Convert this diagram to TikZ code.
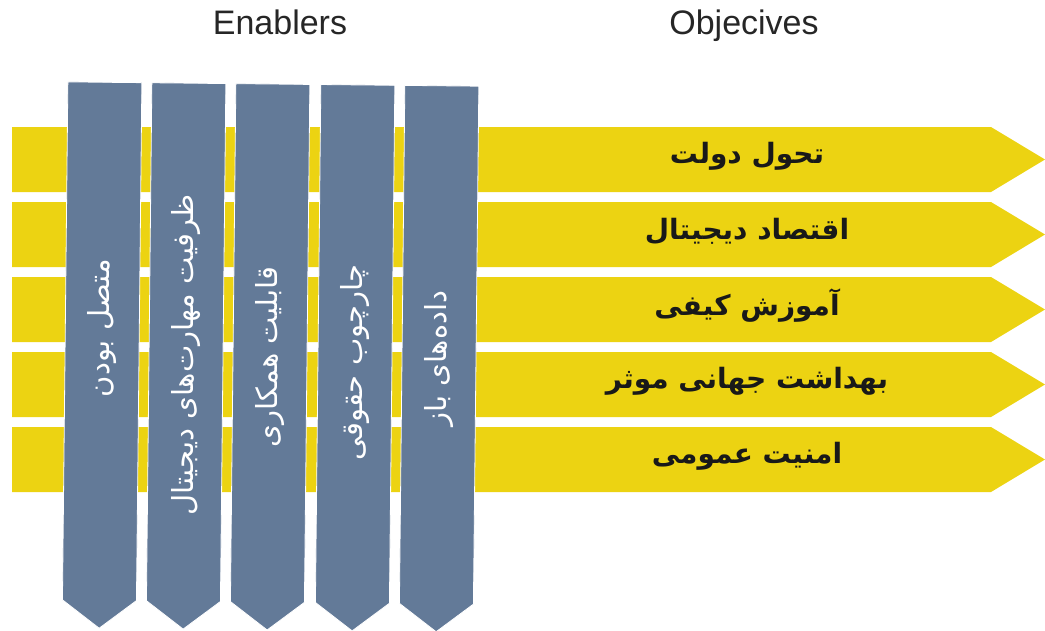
\documentclass[tikz,border=0pt]{standalone}
\usepackage{fontspec}
\setmainfont{Liberation Sans}
\newfontfamily\farsi[Script=Arabic]{DejaVu Sans}
\TeXXeTstate=1
\definecolor{goalyellow}{RGB}{236,211,18}
\definecolor{pillarblue}{RGB}{99,122,152}
\definecolor{headgray}{RGB}{38,38,38}

\begin{document}
\begin{tikzpicture}[
  x=1pt, y=-1pt,
  goal/.style={fill=goalyellow},
  pillar/.style={fill=pillarblue, draw=white, line width=0.8pt},
  goaltext/.style={font=\farsi\bfseries\fontsize{28}{32}\selectfont, text=black!90},
  pillartext/.style={font=\farsi\fontsize{29}{32}\selectfont, text=white, rotate=90},
  head/.style={font=\fontsize{34}{38}\selectfont, text=headgray, anchor=base}
]
\useasboundingbox (0,0) rectangle (1045,630);

% column headings
\node[head] (enab) at (280,34) {Enablers};
\node[head] (obj)  at (744,34) {Objecives};

% objectives (yellow arrows)
\fill[goal] (12,127) -- (991,127) -- (1045,159.5) -- (991,192) -- (12,192) -- cycle;
\fill[goal] (12,202) -- (991,202) -- (1045,234.5) -- (991,267) -- (12,267) -- cycle;
\fill[goal] (12,277) -- (991,277) -- (1045,309.5) -- (991,342) -- (12,342) -- cycle;
\fill[goal] (12,352) -- (991,352) -- (1045,384.5) -- (991,417) -- (12,417) -- cycle;
\fill[goal] (12,427) -- (991,427) -- (1045,459.5) -- (991,492) -- (12,492) -- cycle;

\node[goaltext] (g1) at (747,156) {\beginR تحول دولت\endR};
\node[goaltext] (g2) at (747,231) {\beginR اقتصاد دیجیتال\endR};
\node[goaltext] (g3) at (747,306) {\beginR آموزش کیفی\endR};
\node[goaltext] (g4) at (747,381) {\beginR بهداشت جهانی موثر\endR};
\node[goaltext] (g5) at (747,456) {\beginR امنیت عمومی\endR};

% enablers (blue pillars), slightly tilted
\begin{scope}[rotate around={-0.6:(270,357)}]
\fill[pillar] (65,84)  -- (139,84) -- (139,602) -- (102,630) -- (65,602)  -- cycle;
\fill[pillar] (149,84) -- (223,84) -- (223,602) -- (186,630) -- (149,602) -- cycle;
\fill[pillar] (233,84) -- (307,84) -- (307,602) -- (270,630) -- (233,602) -- cycle;
\fill[pillar] (318,84) -- (392,84) -- (392,602) -- (355,630) -- (318,602) -- cycle;
\fill[pillar] (402,84) -- (476,84) -- (476,602) -- (439,630) -- (402,602) -- cycle;

\node[pillartext] (p1) at (102,330) {\beginR متصل بودن\endR};
\node[pillartext] (p2) at (186,356) {\beginR ظرفیت مهارت‌های دیجیتال\endR};
\node[pillartext] (p3) at (270,357) {\beginR قابلیت همکاری\endR};
\node[pillartext] (p4) at (355,362) {\beginR چارچوب حقوقی\endR};
\node[pillartext] (p5) at (439,357) {\beginR داده‌های باز\endR};
\end{scope}
\end{tikzpicture}
\end{document}
